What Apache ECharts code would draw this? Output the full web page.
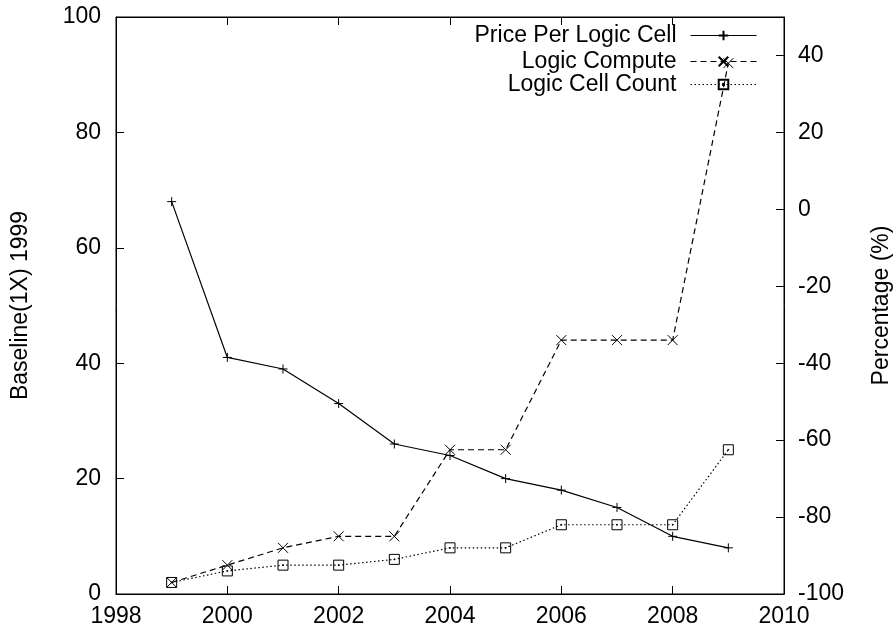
<!DOCTYPE html>
<html>
<head>
<meta charset="utf-8">
<script src="https://cdn.jsdelivr.net/npm/echarts@6/dist/echarts.min.js"></script>
<style>
html, body { margin: 0; padding: 0; background: #fff; }
#chart { width: 893px; height: 630px; }
</style>
</head>
<body>
<div id="chart"></div>
<script>
// data
var years = [1999, 2000, 2001, 2002, 2003, 2004, 2005, 2006, 2007, 2008, 2009];
var pricePerCell = [68, 41, 39, 33, 26, 24, 20, 18, 15, 10, 8];
var logicCompute = [2, 5, 8, 10, 10, 25, 25, 44, 44, 44, 92];
var cellCount = [2, 4, 5, 5, 6, 8, 8, 12, 12, 12, 25];

var seriesNames = ['Price Per Logic Cell', 'Logic Compute', 'Logic Cell Count'];
var xRange = [1998, 2010, 2];
var leftRange = [0, 100, 20];
var rightRange = [-100, 50, 20];

var FONT = '"Liberation Sans", Arial, sans-serif';
var FS = 23;

function pairs(vals) {
    var out = [];
    for (var i = 0; i < years.length; i++) out.push([years[i], vals[i]]);
    return out;
}

window.onload = function () {
    var chart = echarts.init(document.getElementById('chart'));

    var markStyle = { color: 'rgba(0,0,0,0)', borderColor: '#000', borderWidth: 1 };

    // one legend per row so the line samples line up on the right
    function legendFor(name, top) {
        return {
            data: [name],
            right: 136,
            top: top,
            padding: 0,
            itemWidth: 66,
            itemHeight: 12,
            align: 'right',
            selectedMode: false,
            lineStyle: { width: 1 },
            textStyle: { fontFamily: FONT, fontSize: FS, color: '#000', padding: [0, 9, 0, 0] }
        };
    }

    var option = {
        animation: false,
        textStyle: { fontFamily: FONT },
        grid: {
            left: 116, right: 109, top: 17, bottom: 36,
            outerBoundsMode: 'none',
            containLabel: false,
            show: true, borderColor: '#000', borderWidth: 1
        },
        legend: [
            legendFor(seriesNames[0], 24),
            legendFor(seriesNames[1], 50),
            legendFor(seriesNames[2], 73)
        ],
        xAxis: [{
            type: 'value',
            min: xRange[0], max: xRange[1], interval: xRange[2],
            axisLine: { onZero: false, lineStyle: { color: '#000', width: 1 } },
            axisTick: { inside: true, length: 8, lineStyle: { color: '#000' } },
            axisLabel: { color: '#000', fontSize: FS, fontFamily: FONT, margin: 11,
                formatter: function (v) { return String(v); } },
            splitLine: { show: false }
        }, {
            type: 'value',
            position: 'top',
            min: xRange[0], max: xRange[1], interval: xRange[2],
            axisLine: { onZero: false, lineStyle: { color: '#000', width: 1 } },
            axisTick: { inside: true, length: 8, lineStyle: { color: '#000' } },
            axisLabel: { show: false },
            splitLine: { show: false }
        }],
        yAxis: [{
            type: 'value',
            position: 'left',
            min: leftRange[0], max: leftRange[1], interval: leftRange[2],
            name: 'Baseline(1X) 1999',
            nameLocation: 'middle',
            nameGap: 84,
            nameTextStyle: { color: '#000', fontSize: FS, fontFamily: FONT },
            axisLine: { show: true, onZero: false, lineStyle: { color: '#000', width: 1 } },
            axisTick: { inside: true, length: 8, lineStyle: { color: '#000' } },
            axisLabel: { color: '#000', fontSize: FS, fontFamily: FONT, margin: 15 },
            splitLine: { show: false }
        }, {
            type: 'value',
            position: 'right',
            min: rightRange[0], max: rightRange[1], interval: rightRange[2],
            name: 'Percentage (%)',
            nameLocation: 'middle',
            nameGap: 86,
            nameTextStyle: { color: '#000', fontSize: FS, fontFamily: FONT },
            axisLine: { show: true, onZero: false, lineStyle: { color: '#000', width: 1 } },
            axisTick: { inside: true, length: 8, lineStyle: { color: '#000' } },
            axisLabel: { color: '#000', fontSize: FS, fontFamily: FONT, margin: 14, showMaxLabel: false },
            splitLine: { show: false }
        }],
        series: [{
            type: 'line',
            name: seriesNames[0],
            data: pairs(pricePerCell),
            symbol: 'path://M0,5L10,5M5,0L5,10',
            symbolSize: 9,
            showAllSymbol: true,
            itemStyle: markStyle,
            lineStyle: { color: '#000', width: 1.2, type: 'solid' }
        }, {
            type: 'line',
            name: seriesNames[1],
            data: pairs(logicCompute),
            symbol: 'path://M0,0L10,10M10,0L0,10',
            symbolSize: 10,
            showAllSymbol: true,
            itemStyle: markStyle,
            lineStyle: { color: '#000', width: 1.2, type: [6, 4] }
        }, {
            type: 'line',
            name: seriesNames[2],
            data: pairs(cellCount),
            symbol: 'path://M0,0L10,0L10,10L0,10Z M4.6,4.6L5.4,4.6L5.4,5.4L4.6,5.4Z',
            symbolSize: 10,
            showAllSymbol: true,
            itemStyle: markStyle,
            lineStyle: { color: '#000', width: 1.2, type: [1.5, 2.5] }
        }]
    };

    chart.setOption(option);
};
</script>
</body>
</html>
